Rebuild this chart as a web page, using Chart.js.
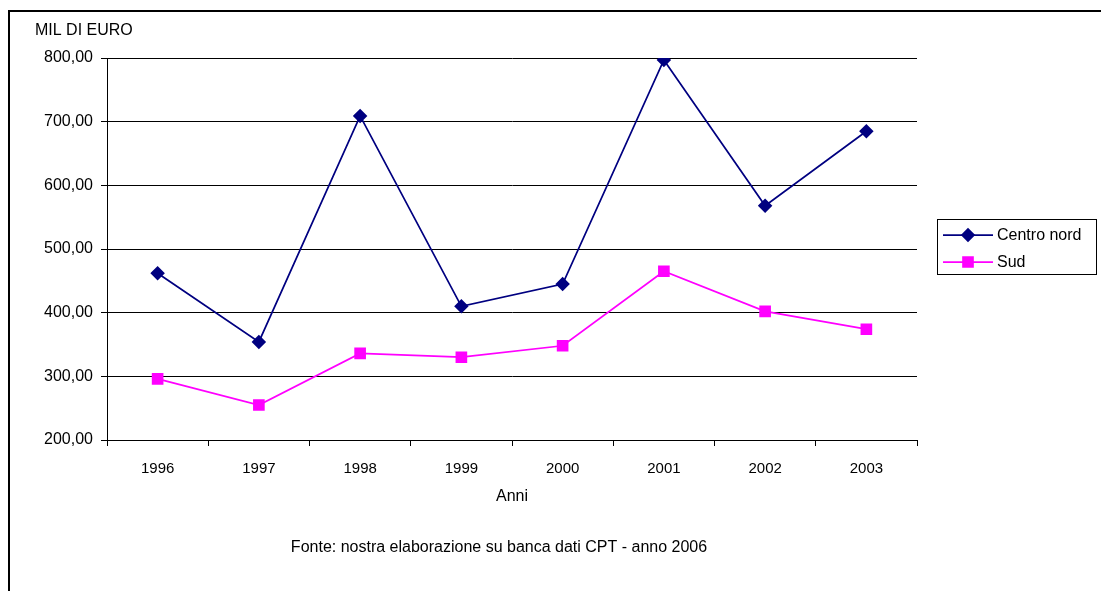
<!DOCTYPE html>
<html>
<head>
<meta charset="utf-8">
<script src="https://cdn.jsdelivr.net/npm/chart.js@4"></script>
<style>
  body { margin: 0; background: #fff; }
  canvas { display: block; }
</style>
</head>
<body>
<canvas id="chart" width="1101" height="591"></canvas>
<script>
const years = ['1996', '1997', '1998', '1999', '2000', '2001', '2002', '2003'];
const centroNord = [462, 354, 709, 410, 445, 797, 568, 685];
const sud = [296, 255, 336, 330, 348, 465, 402, 374];
const yTicks = [200, 300, 400, 500, 600, 700, 800];

const FONT = '"Liberation Sans", Arial, sans-serif';

// frame, extra labels and Excel-style legend
const extras = {
  id: 'extras',
  beforeDraw(chart) {
    const ctx = chart.ctx;
    ctx.save();
    ctx.fillStyle = '#fff';
    ctx.fillRect(0, 0, chart.width, chart.height);
    ctx.strokeStyle = '#000';
    ctx.lineWidth = 2;
    ctx.strokeRect(9, 11, chart.width + 20, chart.height + 20);
    ctx.restore();
  },
  afterDraw(chart) {
    const ctx = chart.ctx;
    const area = chart.chartArea;
    ctx.save();
    ctx.fillStyle = '#000';
    ctx.textBaseline = 'middle';

    ctx.font = '16px ' + FONT;
    ctx.textAlign = 'left';
    ctx.fillText('MIL DI EURO', 35, 31);

    ctx.textAlign = 'center';
    ctx.font = '16px ' + FONT;
    ctx.fillText('Anni', (area.left + area.right) / 2, 497);
    ctx.font = '16px ' + FONT;
    ctx.fillText('Fonte: nostra elaborazione su banca dati CPT - anno 2006', 499, 548);

    // legend
    const lx = 937, ly = 219, lw = 159, lh = 55;
    ctx.strokeStyle = '#000';
    ctx.lineWidth = 1;
    ctx.strokeRect(lx + 0.5, ly + 0.5, lw, lh);
    ctx.textAlign = 'left';
    ctx.font = '16px ' + FONT;
    chart.data.datasets.forEach((ds, i) => {
      const y = ly + 16 + i * 27;
      ctx.strokeStyle = ds.borderColor;
      ctx.lineWidth = ds.borderWidth;
      ctx.beginPath();
      ctx.moveTo(lx + 6, y);
      ctx.lineTo(lx + 56, y);
      ctx.stroke();
      Chart.helpers.drawPoint(ctx, {
        pointStyle: ds.pointStyle,
        radius: ds.pointRadius,
        borderWidth: 1
      }, lx + 31, y);
      ctx.fillStyle = ds.pointBackgroundColor;
      ctx.fill();
      ctx.fillStyle = '#000';
      ctx.fillText(ds.label, lx + 60, y + 1);
    });
    ctx.restore();
  }
};

new Chart(document.getElementById('chart'), {
  type: 'line',
  data: {
    labels: years,
    datasets: [
      {
        label: 'Centro nord',
        data: centroNord,
        borderColor: '#000080',
        backgroundColor: '#000080',
        pointBackgroundColor: '#000080',
        pointBorderColor: '#000080',
        pointStyle: 'rectRot',
        pointRadius: 6,
        borderWidth: 1.75,
        tension: 0
      },
      {
        label: 'Sud',
        data: sud,
        borderColor: '#ff00ff',
        backgroundColor: '#ff00ff',
        pointBackgroundColor: '#ff00ff',
        pointBorderColor: '#ff00ff',
        pointStyle: 'rect',
        pointRadius: 7,
        borderWidth: 1.75,
        tension: 0
      }
    ]
  },
  options: {
    responsive: false,
    animation: false,
    layout: { padding: { top: 58, right: 184, left: 0, bottom: 0 } },
    plugins: {
      legend: { display: false },
      tooltip: { enabled: false }
    },
    scales: {
      x: {
        offset: true,
        grid: { offset: true, drawOnChartArea: false, tickLength: 6, color: '#000' },
        border: { color: '#000', width: 1 },
        ticks: { color: '#000', font: { family: FONT, size: 15 }, padding: 14, maxRotation: 0 },
        afterFit(scale) { scale.height = 151; }
      },
      y: {
        min: 200,
        max: 800,
        afterBuildTicks(scale) { scale.ticks = yTicks.map(v => ({ value: v })); },
        grid: { color: '#000', tickLength: 6 },
        border: { color: '#000', width: 1 },
        ticks: {
          color: '#000',
          font: { family: FONT, size: 16 },
          padding: 8,
          callback: v => v.toFixed(2).replace('.', ',')
        },
        afterFit(scale) { scale.width = 107; }
      }
    }
  },
  plugins: [extras]
});
</script>
</body>
</html>
